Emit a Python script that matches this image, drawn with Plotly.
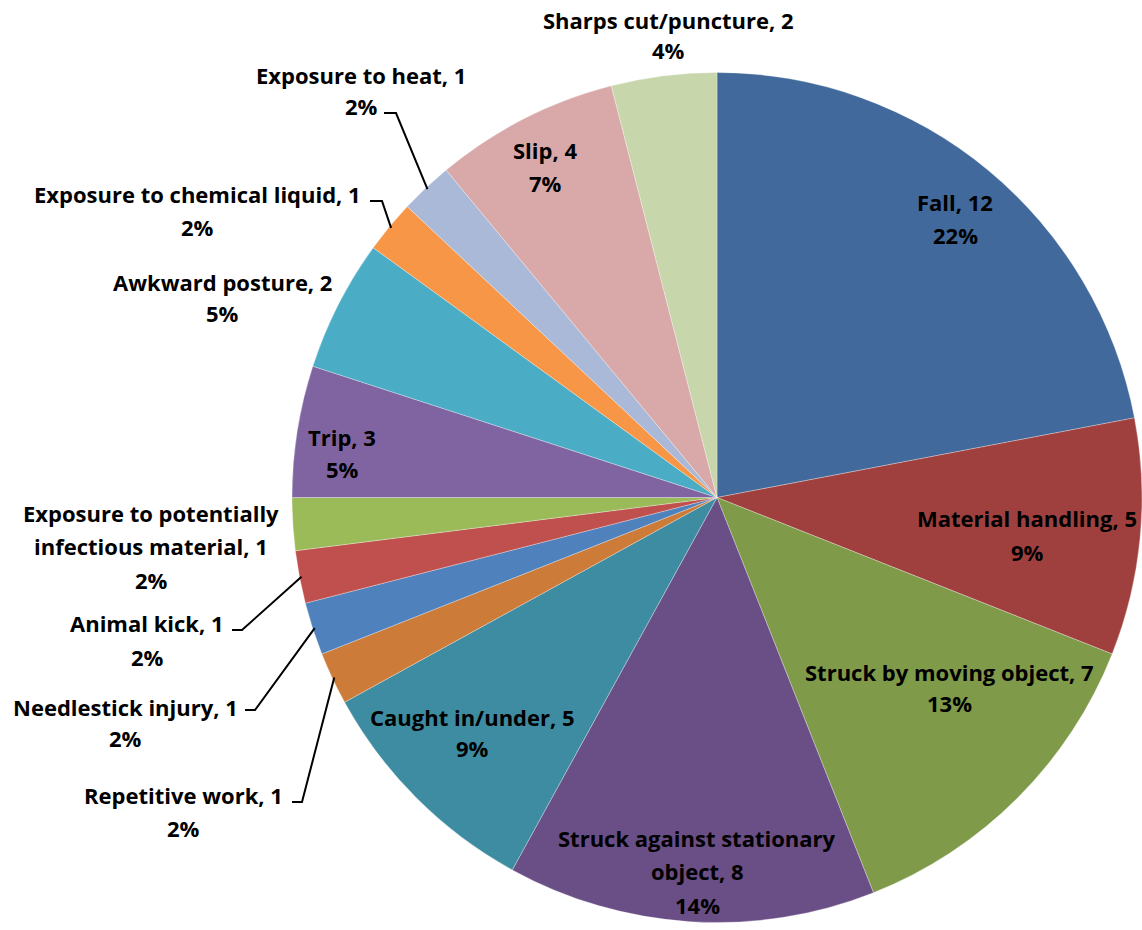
import math
import plotly.graph_objects as go

# ---------------- data ----------------
categories = [
    "Fall", "Material handling", "Struck by moving object",
    "Struck against stationary object", "Caught in/under", "Repetitive work",
    "Needlestick injury", "Animal kick", "Exposure to potentially infectious material",
    "Trip", "Awkward posture", "Exposure to chemical liquid", "Exposure to heat",
    "Slip", "Sharps cut/puncture",
]
counts = [12, 5, 7, 8, 5, 1, 1, 1, 1, 3, 2, 1, 1, 4, 2]
percents = [22, 9, 13, 14, 9, 2, 2, 2, 2, 5, 5, 2, 2, 7, 4]

colors = [
    "#41699B", "#9F403F", "#7F9A48", "#6A4E86", "#3D8CA1", "#CC7B38",
    "#4F81BD", "#C0504D", "#9BBB59", "#8064A2", "#4BACC6", "#F79646",
    "#AAB9D7", "#D9A9A9", "#C7D6AB",
]

# ---------------- layout / style ----------------
W, H = 1142, 930
CX, CY, R = 717.0, 497.5, 425.0
FONT = dict(family="Open Sans, Noto Sans, sans-serif", size=22, color="#000000", weight="bold")

# label placement (pixel centre x, line centre ys, how the first line is wrapped)
label_layout = [
    (955, [202, 235], None),
    (1027, [518, 552], None),
    (949, [672, 703], None),
    (697, [838, 871, 905], "Struck against stationary|object"),
    (472, [717, 748], None),
    (183, [795, 828], None),
    (125, [707, 738], None),
    (147, [623, 657], None),
    (151, [513, 546, 580], "Exposure to potentially|infectious material"),
    (342, [437, 469], None),
    (222, [282, 313], None),
    (197, [194, 227], None),
    (361, [75, 106], None),
    (545, [150, 183], None),
    (668, [20, 50], None),
]

# leader lines: index -> (stub start x, stub end x, stub y)
leaders = {
    5: (292, 302, 802),
    6: (245, 255, 710),
    7: (232, 242, 630),
    11: (370, 382, 201),
    12: (384, 396, 113),
}


def px(x):
    return x / W


def py(y):
    return 1 - y / H


fig = go.Figure(
    go.Pie(
        labels=categories,
        values=percents,
        marker=dict(colors=colors, line=dict(color="rgba(255,255,255,0.5)", width=0.6)),
        sort=False,
        direction="clockwise",
        rotation=0,
        textinfo="none",
        hoverinfo="label+value",
        showlegend=False,
        domain=dict(x=[(CX - R) / W, min(1.0, (CX + R) / W)],
                    y=[(H - CY - R) / H, (H - CY + R) / H]),
    )
)

annotations = []
for i, (cat, cnt, pct) in enumerate(zip(categories, counts, percents)):
    cx, ys, wrap = label_layout[i]
    if wrap:
        parts = wrap.split("|")
        lines = [parts[0], f"{parts[1]}, {cnt}", f"{pct}%"]
    else:
        lines = [f"{cat}, {cnt}", f"{pct}%"]
    for text, y in zip(lines, ys):
        annotations.append(dict(
            x=px(cx), y=py(y), xref="paper", yref="paper",
            text=text, showarrow=False, xanchor="center", yanchor="middle",
            font=FONT,
        ))

# slice mid-angles from the data
total = sum(percents)
shapes = []
cum = 0.0
for i, p in enumerate(percents):
    mid = (cum + p / 2) / total * 2 * math.pi
    cum += p
    if i in leaders:
        x0, x1, ys = leaders[i]
        ex = CX + (R - 2) * math.sin(mid)
        ey = CY - (R - 2) * math.cos(mid)
        path = f"M {px(x0)} {py(ys)} L {px(x1)} {py(ys)} L {px(ex)} {py(ey)}"
        shapes.append(dict(type="path", path=path, xref="paper", yref="paper",
                           line=dict(color="#000000", width=2)))

fig.update_layout(
    width=W, height=H,
    margin=dict(l=0, r=0, t=0, b=0),
    paper_bgcolor="#FFFFFF",
    plot_bgcolor="#FFFFFF",
    annotations=annotations,
    shapes=shapes,
    showlegend=False,
)

fig.write_html("out.html", config={"displayModeBar": False},
               post_script="document.body.style.margin='0';")
